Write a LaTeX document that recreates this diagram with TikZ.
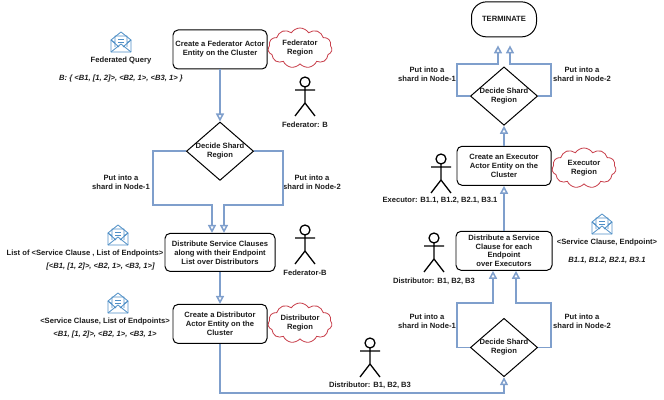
\documentclass[tikz,border=0pt]{standalone}
\usepackage{fontspec}
\setmainfont{Liberation Sans}
\usepackage{xcolor}
\usepackage{tikz}
\usetikzlibrary{shapes,arrows.meta,positioning,calc}
\definecolor{flowblue}{HTML}{7F9FCC}
\definecolor{mailblue}{HTML}{4F8FC6}
\definecolor{cloudred}{HTML}{C8404C}
\definecolor{inkgray}{HTML}{1C1C1C}

\tikzset{
    person/.pic={
        \draw[line width=1.1pt, black] (0,0) circle (5);
        \draw[line width=1.1pt, black] (0,5) -- (0,21) (-10,8) -- (10,8) (-10,34) -- (0,21) -- (10,34);
    },
    mail/.pic={
        \draw[mailblue, line width=0.7pt, line join=round] (-10,-2) -- (0,-10) -- (10,-2) -- (10,10) -- (-10,10) -- cycle;
        \draw[mailblue, line width=0.7pt, line join=round] (-10,-2) -- (-6,1) (10,-2) -- (6,1) (-6,5) -- (-6,-6) -- (6,-6) -- (6,5);
        \draw[mailblue, line width=0.7pt, line join=round] (-10,10) -- (0,2) -- (10,10) (-10,-2) -- (-2,5) (10,-2) -- (2,5);
        \draw[mailblue, line width=0.6pt] (-3,-3) -- (3,-3) (-3,0) -- (3,0);
    },
}

\begin{document}
\begin{tikzpicture}[
    x=0.03cm, y=-0.03cm,
    font=\fontsize{6.5}{7.65}\selectfont\bfseries,
    text=inkgray,
    block/.style={draw=black, line width=0.85pt, rounded corners=0.15cm, fill=white, minimum width=2.82cm, minimum height=1.17cm, inner sep=0pt, align=center},
    decision/.style={draw=black, line width=0.85pt, diamond, aspect=1.15, inner sep=0pt, fill=white, align=center},
    region/.style={draw=cloudred, line width=0.7pt, cloud, cloud puffs=11, cloud puff arc=115, aspect=1.6, inner sep=-1pt, minimum width=1.92cm, minimum height=1.2cm, align=center},
    note/.style={align=center, inner sep=0pt},
    clause/.style={note, font=\fontsize{6.5}{7.65}\selectfont\bfseries\itshape},
    arrow/.style={-{Triangle[open, fill=white, length=0.24cm, width=0.24cm]}, draw=flowblue, line width=1.3pt},
]
    \useasboundingbox (0,0) rectangle (664,400);

    % Left column
    \node[block] (federator) at (220,49.5) {Create a Federator Actor\\Entity on the Cluster};
    \node[decision, below=1.56cm of federator] (decideF) {Decide Shard\\Region};
    \node[block, minimum width=3.3cm, minimum height=1.14cm, below=1.56cm of decideF] (clauses) {Distribute Service Clauses\\along with their Endpoint\\List over Distributors};
    \node[block, below=0.96cm of clauses] (distributor) {Create a Distributor\\Actor Entity on the\\Cluster};

    % Right column
    \node[decision] (decideD) at (504,347.5) {Decide Shard\\Region};
    \node[block, minimum width=2.88cm, minimum height=1.17cm, above=1.41cm of decideD] (service) {Distribute a Service\\Clause for each\\Endpoint\\over Executors};
    \node[block, above=1.35cm of service] (executor) {Create an Executor\\Actor Entity on the\\Cluster};
    \node[decision, above=0.6cm of executor] (decideE) {Decide Shard\\Region};
    \node[block, rounded corners=0.45cm, minimum width=1.95cm, minimum height=1.05cm, above=0.87cm of decideE] (terminate) {TERMINATE};

    % Regions
    \node[region] (regionF) at (300,48) {Federator\\Region};
    \node[region] (regionD) at (300,323) {Distributor\\Region};
    \node[region] (regionE) at (584,168) {Executor\\Region};

    % Actors
    \pic at (305,82) {person};
    \pic at (305,230) {person};
    \pic at (370,343) {person};
    \pic at (434,238) {person};
    \pic at (441,159) {person};
    \node[note] (actorF) at (305,124.5) {Federator: B};
    \node[note] (actorFB) at (305,273) {Federator-B};
    \node[note] (actorD) at (370,385) {Distributor: B1, B2, B3};
    \node[note] (actorDS) at (434,281) {Distributor: B1, B2, B3};
    \node[note] (actorE) at (440,200) {Executor: B1.1, B1.2, B2.1, B3.1};

    % Messages
    \pic at (121,42) {mail};
    \pic at (118,235) {mail};
    \pic at (118,303) {mail};
    \pic at (602,224) {mail};
    \node[note] (query) at (121,61) {Federated Query};
    \node[clause] (queryval) at (121,79) {B: \{ <B1, [1, 2]>, <B2, 1>, <B3, 1> \}};
    \node[note] (listA) at (85,254) {List of <Service Clause , List of Endpoints>};
    \node[clause] (listAval) at (100.5,267) {[<B1, [1, 2]>, <B2, 1>, <B3, 1>]};
    \node[note] (listB) at (105,322) {<Service Clause, List of Endpoints>};
    \node[clause] (listBval) at (105,335) {<B1, [1, 2]>, <B2, 1>, <B3, 1>};
    \node[note] (pair) at (607,243) {<Service Clause, Endpoint>};
    \node[clause] (pairval) at (607,260) {B1.1, B1.2, B2.1, B3.1};

    % Shard labels
    \node[note] (nodeFa) at (121,182) {Put into a\\shard in Node-1};
    \node[note] (nodeFb) at (312,182) {Put into a\\shard in Node-2};
    \node[note] (nodeEa) at (427,74) {Put into a\\shard in Node-1};
    \node[note] (nodeEb) at (582,74) {Put into a\\shard in Node-2};
    \node[note] (nodeDa) at (427,321) {Put into a\\shard in Node-1};
    \node[note] (nodeDb) at (582,321) {Put into a\\shard in Node-2};

    % Arrows
    \draw[arrow] (federator) -- (decideF);
    \draw[arrow] (decideF.west) -| (153,205) -| ([xshift=-0.24cm]clauses.north);
    \draw[arrow] (decideF.east) -| (283,205) -| ([xshift=0.12cm]clauses.north);
    \draw[arrow] (clauses) -- (distributor);
    \draw[arrow] (distributor.south) |- (504,393) -- (decideD.south);
    \draw[arrow] (decideD.west) -| (457,303) -| ([xshift=-0.33cm]service.south);
    \draw[arrow] (decideD.east) -| (551,303) -| ([xshift=0.36cm]service.south);
    \draw[arrow] (service) -- (executor);
    \draw[arrow] (executor) -- (decideE);
    \draw[arrow, shorten >=0.24cm] (decideE.west) -| (457,64) -| ([xshift=-0.18cm]terminate.south);
    \draw[arrow, shorten >=0.24cm] (decideE.east) -| (551,64) -| ([xshift=0.18cm]terminate.south);
\end{tikzpicture}
\end{document}
